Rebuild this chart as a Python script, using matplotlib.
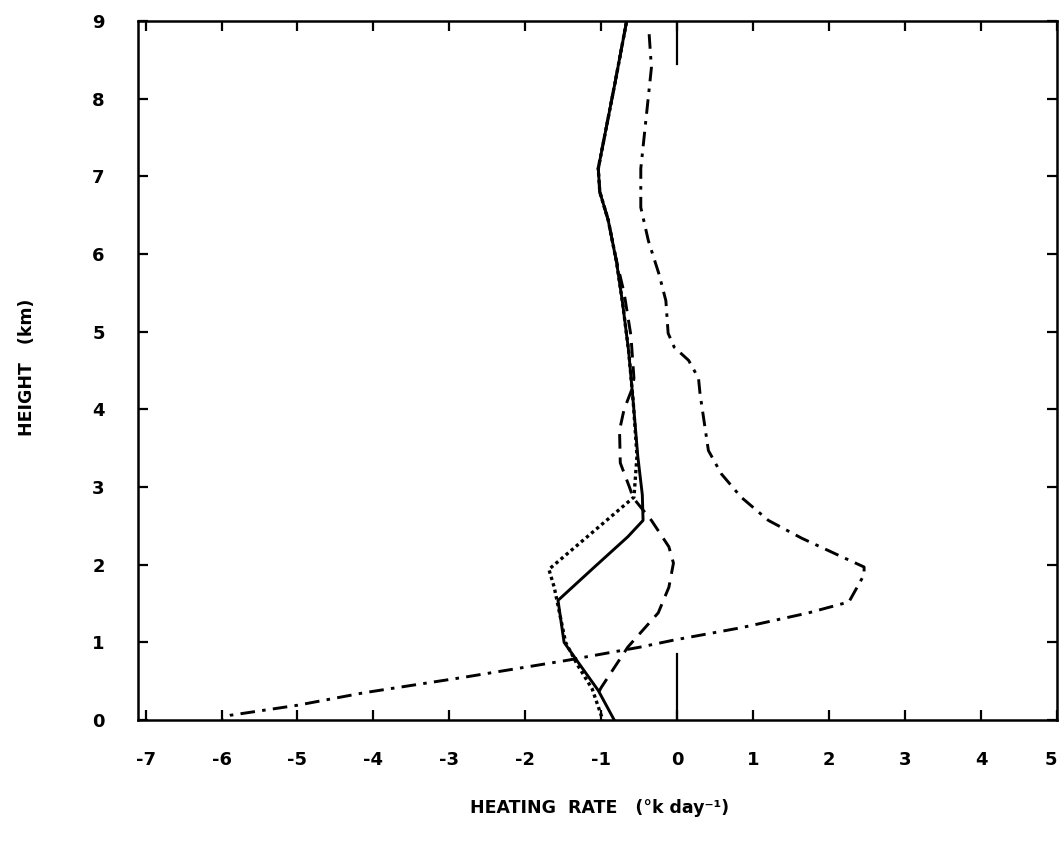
import matplotlib
matplotlib.use("Agg")
import matplotlib.pyplot as plt

# ---- data (heating rate in K/day, height in km) ----
solid_x = [-0.67, -0.82, -0.96, -1.04, -1.02, -0.91, -0.80, -0.72, -0.64, -0.58, -0.52, -0.46, -0.45,
           -0.65, -1.09, -1.57, -1.49, -1.31, -1.04, -0.83]
solid_y = [8.98, 8.2, 7.5, 7.1, 6.8, 6.44, 5.9, 5.37, 4.75, 4.1, 3.4, 2.9, 2.57,
           2.36, 1.97, 1.54, 1.0, 0.75, 0.38, 0.0]

dotted_x = [-0.67, -0.82, -0.96, -1.04, -1.02, -0.91, -0.80, -0.72, -0.64, -0.58, -0.53, -0.57,
            -1.69, -1.62, -1.47, -1.32, -1.12, -0.98]
dotted_y = [8.98, 8.2, 7.5, 7.1, 6.8, 6.44, 5.9, 5.37, 4.75, 4.1, 3.4, 2.87,
            1.94, 1.71, 1.0, 0.72, 0.4, 0.0]

dashed_x = [-0.67, -0.82, -0.96, -1.04, -1.02, -0.91, -0.82, -0.70, -0.61, -0.57, -0.60, -0.70, -0.76,
            -0.75, -0.63, -0.58, -0.34, -0.11, -0.05, -0.11, -0.25, -0.65, -1.0, -1.05]
dashed_y = [8.98, 8.2, 7.5, 7.1, 6.8, 6.44, 6.0, 5.5, 4.95, 4.4, 4.25, 4.0, 3.73,
            3.31, 3.0, 2.86, 2.57, 2.23, 2.02, 1.71, 1.38, 0.94, 0.42, 0.33]

dashdot_x = [-0.37, -0.34, -0.41, -0.48, -0.48, -0.38, -0.24, -0.15, -0.12, -0.04, 0.15, 0.28, 0.30,
             0.41, 0.58, 0.84, 1.20, 1.64, 2.17, 2.46, 2.46, 2.26, 1.73, 0.85, -0.04, -0.48,
             -1.44, -2.81, -4.13, -5.0, -5.89, -6.0]
dashdot_y = [8.83, 8.4, 7.75, 7.1, 6.6, 6.17, 5.74, 5.4, 4.98, 4.8, 4.63, 4.4, 4.2,
             3.47, 3.17, 2.87, 2.57, 2.34, 2.1, 1.97, 1.87, 1.52, 1.38, 1.19, 1.03, 0.94,
             0.77, 0.55, 0.35, 0.19, 0.06, 0.02]

x_ticks = [-7, -6, -5, -4, -3, -2, -1, 0, 1, 2, 3, 4, 5]
x_ticklabels = ["-7", "-6", "-5", "-4", "-3", "-2", "-1", "0", "1", "2", "3", "4", "5"]
y_ticks = [0, 1, 2, 3, 4, 5, 6, 7, 8, 9]
y_ticklabels = ["0", "1", "2", "3", "4", "5", "6", "7", "8", "9"]

# ---- figure ----
W, H = 1059, 852
fig = plt.figure(figsize=(W / 100, H / 100), dpi=100)
ax = fig.add_axes([138 / W, 1 - 720 / H, (1057 - 138) / W, (720 - 21) / H])

lw = 2.1
ax.plot(solid_x, solid_y, color="black", lw=lw, solid_joinstyle="round")
ax.plot(dotted_x, dotted_y, color="black", lw=lw + 0.3, linestyle=(0, (1.0, 1.0)))
ax.plot(dashed_x, dashed_y, color="black", lw=lw, linestyle=(0, (5, 3)))
ax.plot(dashdot_x, dashdot_y, color="black", lw=lw, linestyle=(0, (5, 2.5, 1.2, 2.5)))

# zero reference marks
ax.axvline(0, ymin=0, ymax=0.85 / 9, color="black", lw=1.6)
ax.axvline(0, ymin=8.45 / 9, ymax=1, color="black", lw=1.6)

ax.set_xlim(-7.1, 5.0)
ax.set_ylim(0, 9)

for s in ax.spines.values():
    s.set_linewidth(1.8)

ax.set_xticks(x_ticks)
ax.set_xticklabels(x_ticklabels)
ax.set_yticks(y_ticks)
ax.set_yticklabels(y_ticklabels)
ax.tick_params(direction="in", length=7, width=1.6, top=True, right=True,
               labelsize=13)
ax.tick_params(axis="x", pad=22)
ax.tick_params(axis="y", pad=24)
for lab in ax.get_xticklabels() + ax.get_yticklabels():
    lab.set_fontweight("bold")
ax.get_xticklabels()[-1].set_horizontalalignment("right")

fig.text(600 / W, 1 - 808 / H, "HEATING  RATE   (°k day\u207b\u00b9)",
         ha="center", va="center", fontsize=12.5, fontweight="bold")
fig.text(27 / W, 1 - 367 / H, "HEIGHT   (km)", rotation=90,
         ha="center", va="center", fontsize=12.5, fontweight="bold")

fig.savefig("out.png", dpi=100)
